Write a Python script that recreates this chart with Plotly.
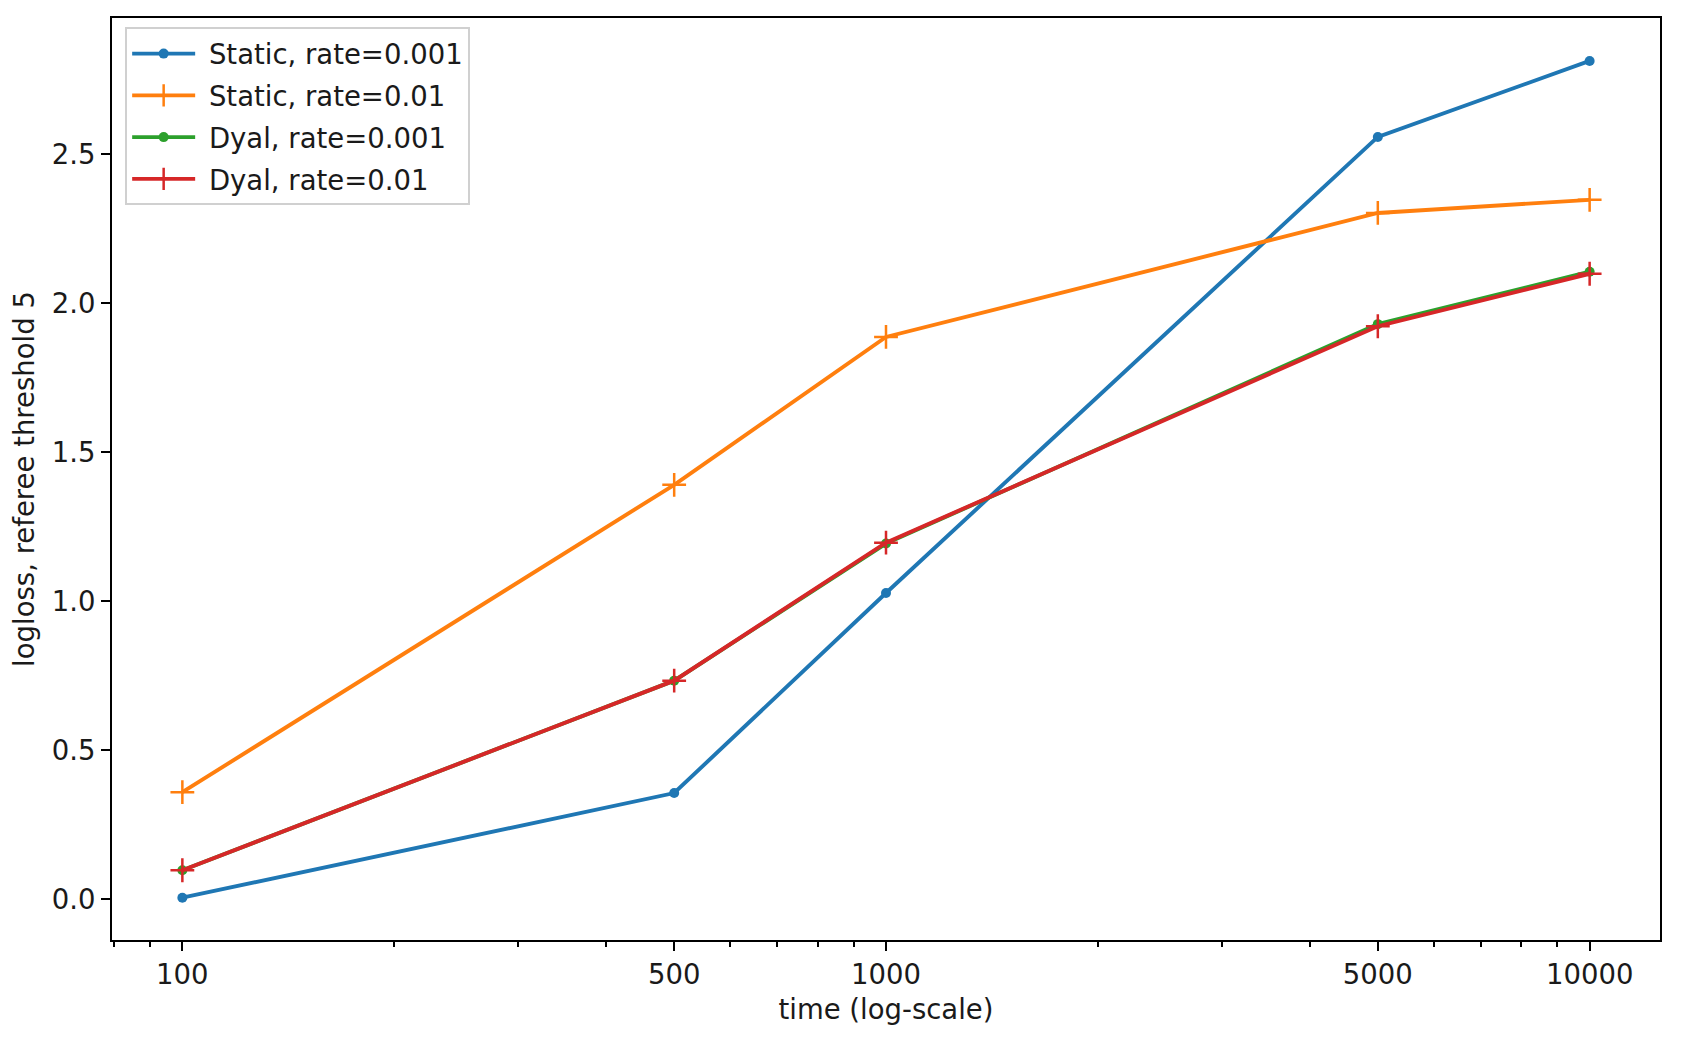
import plotly.graph_objects as go

time = [100, 500, 1000, 5000, 10000]
static_001 = [0.005, 0.356, 1.027, 2.557, 2.812]
static_01 = [0.359, 1.390, 1.886, 2.302, 2.346]
dyal_001 = [0.097, 0.733, 1.193, 1.929, 2.105]
dyal_01 = [0.097, 0.733, 1.196, 1.922, 2.098]

x_tick_vals = [100, 500, 1000, 5000, 10000]
x_tick_text = ["100", "500", "1000", "5000", "10000"]
x_minor_vals = [80, 90, 200, 300, 400, 600, 700, 800, 900,
                2000, 3000, 4000, 6000, 7000, 8000, 9000, 20000]
y_tick_vals = [0.0, 0.5, 1.0, 1.5, 2.0, 2.5]

series = [
    ("Static, rate=0.001", static_001, "#1f77b4", "circle"),
    ("Static, rate=0.01", static_01, "#ff7f0e", "cross-thin"),
    ("Dyal, rate=0.001", dyal_001, "#2ca02c", "circle"),
    ("Dyal, rate=0.01", dyal_01, "#d62728", "cross-thin"),
]

FONT = "DejaVu Sans"
FS = 27.5
TXT = "#1a1a1a"
fig = go.Figure()
for i, (name, vals, color, sym) in enumerate(series):
    if sym == "circle":
        marker = dict(symbol="circle", size=10, color=color)
    else:
        marker = dict(symbol="cross-thin", size=17, color=color,
                      line=dict(color=color, width=2.5))
    fig.add_trace(go.Scatter(
        x=time, y=vals, name="\u00a0" + name, mode="lines+markers",
        legendgroup="g%d" % i,
        line=dict(color=color, width=3.9), marker=marker,
    ))

fig.update_layout(
    width=1682, height=1038,
    margin=dict(l=103, r=30, t=8, b=106),
    paper_bgcolor="white", plot_bgcolor="white",
    font=dict(family=FONT, size=FS, color=TXT),
    showlegend=True,
    legend=dict(
        x=0.0085, y=0.99, xanchor="left", yanchor="top",
        bgcolor="rgba(255,255,255,0.8)", bordercolor="#d0d0d0", borderwidth=2,
        font=dict(family=FONT, size=FS, color=TXT),
        itemwidth=63, tracegroupgap=3,
    ),
    xaxis=dict(
        type="log", range=[1.9, 4.1],
        tickvals=x_tick_vals, ticktext=x_tick_text,
        ticks="outside", ticklen=9, tickwidth=2, tickcolor="black",
        showline=True, linecolor="black", linewidth=2, mirror=True,
        showgrid=False, zeroline=False,
        tickfont=dict(family=FONT, size=FS, color=TXT),
        title=dict(text="time (log-scale)", standoff=11,
                   font=dict(family=FONT, size=FS, color=TXT)),
        minor=dict(tickvals=x_minor_vals, ticks="outside", ticklen=5,
                   tickwidth=1.5, tickcolor="black", showgrid=False),
    ),
    yaxis=dict(
        range=[-0.137, 2.956],
        tickvals=y_tick_vals, tickformat=".1f",
        ticks="outside", ticklen=9, tickwidth=2, tickcolor="black",
        showline=True, linecolor="black", linewidth=2, mirror=True,
        showgrid=False, zeroline=False,
        tickfont=dict(family=FONT, size=FS, color=TXT),
        title=dict(text="logloss, referee threshold 5", standoff=17,
                   font=dict(family=FONT, size=FS, color=TXT)),
    ),
)

fig.write_html("out.html")
